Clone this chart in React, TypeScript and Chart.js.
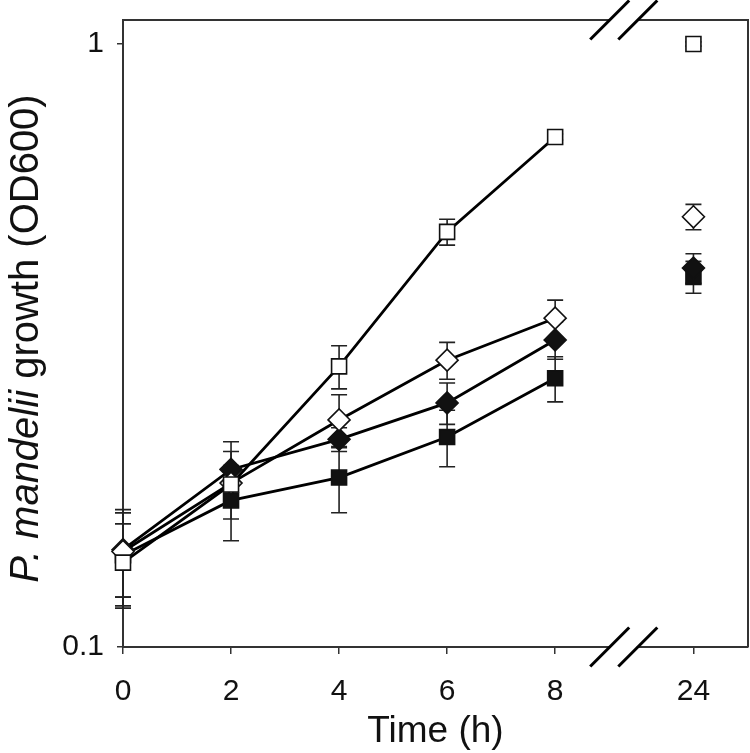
import React, { useEffect, useRef } from "react";
import { Chart, registerables } from "chart.js";

Chart.register(...registerables);

// ---- data ----
const times = [0, 2, 4, 6, 8, 24];
const xTickLabels = ["0", "2", "4", "6", "8", "24"];
const yTickValues = [0.1, 1];
const yTickLabels = ["0.1", "1"];

const openSquare = [0.138, 0.186, 0.292, 0.488, 0.701, 1.0];
const openSquareErr = [0.022, 0.01, 0.024, 0.024, 0.008, 0.008];
const openDiamond = [0.144, 0.187, 0.238, 0.299, 0.351, 0.517];
const openDiamondErr = [0.023, 0.024, 0.024, 0.021, 0.025, 0.025];
const filledDiamond = [0.145, 0.197, 0.221, 0.254, 0.323, 0.425];
const filledDiamondErr = [0.024, 0.022, 0.01, 0.02, 0.023, 0.024];
const filledSquare = [0.142, 0.175, 0.191, 0.223, 0.279, 0.411];
const filledSquareErr = [0.025, 0.025, 0.024, 0.024, 0.024, 0.025];

const xTitle = "Time (h)";
const yTitleItalic = "P. mandelii";
const yTitleRest = " growth (OD600)";

// ---- axis break (compressed segment after 8 h) ----
const BREAK_AT = 8;
const BREAK_COMPRESS = 0.16;
const X_MAX = 11.57;
const Y_MIN = 0.1;
const Y_MAX = 1.096;
const BREAK_MARKS = [9.01, 9.53];
const axisX = (t: number) => (t <= BREAK_AT ? t : BREAK_AT + (t - BREAK_AT) * BREAK_COMPRESS);

const FONT = "'Liberation Sans', Arial, sans-serif";
const AXIS_COLOR = "#333";

function makeSeries(values: number[], errs: number[], style: string, filled: boolean, order: number) {
  return {
    data: values.map((v, i) => ({ x: axisX(times[i]), y: v })),
    errors: errs,
    order,
    borderColor: "#000",
    borderWidth: 2.8,
    pointStyle: style,
    pointRadius: style === "rect" ? 10.6 : 11,
    pointBorderWidth: 1.6,
    pointBorderColor: "#111",
    pointBackgroundColor: filled ? "#111" : "#fff",
    showLine: true,
    clip: false,
    segment: {
      borderColor: (ctx: any) => (times[ctx.p1DataIndex] > BREAK_AT ? "rgba(0,0,0,0)" : "#000"),
    },
  };
}

const errorBarPlugin = {
  id: "errorBars",
  beforeDatasetsDraw(chart: any) {
    const { ctx } = chart;
    const xs = chart.scales.x;
    const ys = chart.scales.y;
    ctx.save();
    ctx.strokeStyle = "#222";
    ctx.lineWidth = 1.6;
    chart.data.datasets.forEach((ds: any) => {
      ds.data.forEach((p: any, i: number) => {
        const e = ds.errors[i];
        const px = xs.getPixelForValue(p.x);
        const top = ys.getPixelForValue(p.y + e);
        const bot = ys.getPixelForValue(p.y - e);
        const cap = 8;
        ctx.beginPath();
        ctx.moveTo(px, top);
        ctx.lineTo(px, bot);
        ctx.moveTo(px - cap, top);
        ctx.lineTo(px + cap, top);
        ctx.moveTo(px - cap, bot);
        ctx.lineTo(px + cap, bot);
        ctx.stroke();
      });
    });
    ctx.restore();
  },
};

const framePlugin = {
  id: "frame",
  afterDraw(chart: any) {
    const { ctx, chartArea } = chart;
    const xs = chart.scales.x;
    const { left, right, top, bottom } = chartArea;
    const b1 = xs.getPixelForValue(BREAK_MARKS[0]);
    const b2 = xs.getPixelForValue(BREAK_MARKS[1]);
    ctx.save();
    // top and right border
    ctx.strokeStyle = AXIS_COLOR;
    ctx.lineWidth = 2;
    ctx.beginPath();
    ctx.moveTo(left, top);
    ctx.lineTo(b1, top);
    ctx.moveTo(b2, top);
    ctx.lineTo(right, top);
    ctx.lineTo(right, bottom);
    ctx.stroke();
    // gap in bottom axis
    ctx.fillStyle = "#fff";
    ctx.fillRect(b1 + 1, bottom - 2, b2 - b1 - 2, 4);
    // slashes
    ctx.strokeStyle = "#000";
    ctx.lineWidth = 3;
    const h = 19.5;
    [top, bottom].forEach((yy) => {
      [b1, b2].forEach((xx) => {
        ctx.beginPath();
        ctx.moveTo(xx - h, yy + h);
        ctx.lineTo(xx + h, yy - h);
        ctx.stroke();
      });
    });
    ctx.fillStyle = "#111";
    ctx.textBaseline = "middle";
    // x title
    ctx.textAlign = "center";
    ctx.font = `37px ${FONT}`;
    ctx.fillText(xTitle, (left + right) / 2, 732);
    // y title (mixed italic / normal)
    const fs = 40;
    const cy = (top + bottom) / 2 + 5;
    const cx = 27;
    ctx.textAlign = "left";
    ctx.font = `italic ${fs}px ${FONT}`;
    const w1 = ctx.measureText(yTitleItalic).width;
    ctx.font = `${fs}px ${FONT}`;
    const w2 = ctx.measureText(yTitleRest).width;
    ctx.translate(cx, cy);
    ctx.rotate(-Math.PI / 2);
    const start = -(w1 + w2) / 2;
    ctx.font = `italic ${fs}px ${FONT}`;
    ctx.fillText(yTitleItalic, start, 0);
    ctx.font = `${fs}px ${FONT}`;
    ctx.fillText(yTitleRest, start + w1, 0);
    ctx.restore();
  },
};

const zeroPadding = (s: any) => {
  s.paddingTop = 0;
  s.paddingBottom = 0;
  s.paddingLeft = 0;
  s.paddingRight = 0;
};

export default function App() {
  const ref = useRef<HTMLCanvasElement | null>(null);
  useEffect(() => {
    document.body.style.margin = "0";
    if (!ref.current) return;
    Chart.defaults.font.family = FONT;
    const chart = new Chart(ref.current, {
      type: "scatter",
      data: {
        datasets: [
          makeSeries(openSquare, openSquareErr, "rect", false, 1),
          makeSeries(openDiamond, openDiamondErr, "rectRot", false, 2),
          makeSeries(filledDiamond, filledDiamondErr, "rectRot", true, 3),
          makeSeries(filledSquare, filledSquareErr, "rect", true, 4),
        ] as any,
      },
      options: {
        responsive: false,
        animation: false,
        events: [],
        layout: { autoPadding: false, padding: { top: 20, right: 2, left: 0, bottom: 0 } },
        plugins: {
          legend: { display: false },
          tooltip: { enabled: false },
        },
        scales: {
          x: {
            type: "linear",
            min: 0,
            max: X_MAX,
            afterFit: (s: any) => {
              s.height = 106;
              zeroPadding(s);
            },
            afterBuildTicks: (s: any) => {
              s.ticks = times.map((t) => ({ value: axisX(t) }));
            },
            ticks: {
              autoSkip: false,
              maxRotation: 0,
              padding: 20,
              color: "#111",
              font: { size: 30, family: FONT },
              callback: (_v: any, i: number) => xTickLabels[i],
            },
            grid: {
              display: true,
              drawOnChartArea: false,
              drawTicks: true,
              tickLength: 7,
              tickColor: AXIS_COLOR,
              lineWidth: 1.5,
            },
            border: { display: true, color: AXIS_COLOR, width: 2 },
          },
          y: {
            type: "logarithmic",
            min: Y_MIN,
            max: Y_MAX,
            afterFit: (s: any) => {
              s.width = 123;
              zeroPadding(s);
            },
            afterBuildTicks: (s: any) => {
              s.ticks = yTickValues.map((v) => ({ value: v }));
            },
            ticks: {
              autoSkip: false,
              padding: 13,
              color: "#111",
              font: { size: 30, family: FONT },
              callback: (_v: any, i: number) => yTickLabels[i],
            },
            grid: {
              display: true,
              drawOnChartArea: false,
              drawTicks: true,
              tickLength: 6,
              tickColor: AXIS_COLOR,
              lineWidth: 1.5,
            },
            border: { display: true, color: AXIS_COLOR, width: 2 },
          },
        },
      },
      plugins: [errorBarPlugin, framePlugin],
    });
    return () => chart.destroy();
  }, []);
  return (
    <div style={{ width: 750, height: 753 }}>
      <canvas ref={ref} width={750} height={753} style={{ display: "block" }} />
    </div>
  );
}
